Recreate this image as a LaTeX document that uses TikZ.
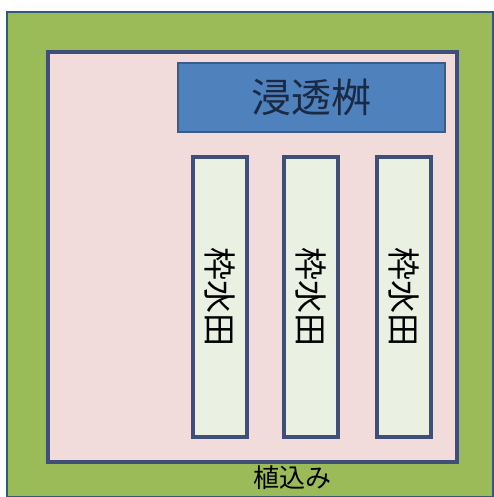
\documentclass[tikz,border=0pt]{standalone}
\usepackage{fontspec}
\newfontfamily\jpfont{Noto Sans CJK JP}
\usetikzlibrary{positioning}
\definecolor{gruen}{HTML}{9BBB59}
\definecolor{rosa}{HTML}{F2DCDB}
\definecolor{blau}{HTML}{4F81BD}
\definecolor{dunkelblau}{HTML}{385D8A}
\definecolor{rahmen}{HTML}{3F4F7A}
\definecolor{hell}{HTML}{EAF1E2}
\definecolor{tinte}{HTML}{1A2A45}
\tikzset{
    %Define style for the planting strip
    pflanzung/.style={
           rectangle,
           fill=gruen,
           draw=rahmen!80!teal, line width=1.5pt,
           minimum width=486pt,
           minimum height=485pt},
    % Define style for the garden area
    garten/.style={
           rectangle,
           fill=rosa,
           draw=rahmen, line width=3.5pt,
           minimum width=409pt,
           minimum height=410pt},
    % Define style for the infiltration basin
    becken/.style={
           rectangle,
           fill=blau,
           draw=dunkelblau, line width=2.5pt,
           minimum width=267pt,
           minimum height=69pt,
           font=\jpfont\fontsize{40}{44}\selectfont,
           text=tinte},
    % Define style for the frame beds
    beet/.style={
           rectangle,
           rotate=-90,
           fill=hell,
           draw=rahmen, line width=3.5pt,
           minimum width=280pt,
           minimum height=54pt,
           font=\jpfont\fontsize{33}{36}\selectfont}
}

\begin{document}
\begin{tikzpicture}[x=1pt,y=-1pt]
  \useasboundingbox (0,0) rectangle (494,497);
  \node[pflanzung] (P) at (250,254.5) {};
  \node[garten] (G) at (252.5,257) {};
  \node[becken] (M) at (311.5,97.5) {浸透桝};
  \node[beet] (F1) at (220,297) {枠水田};
  \node[beet] (F2) at (311,297) {枠水田};
  \node[beet] (F3) at (404,297) {枠水田};
  \node[font=\jpfont\fontsize{26}{28}\selectfont, text=black] (L) at (292,478) {植込み};
\end{tikzpicture}
\end{document}
